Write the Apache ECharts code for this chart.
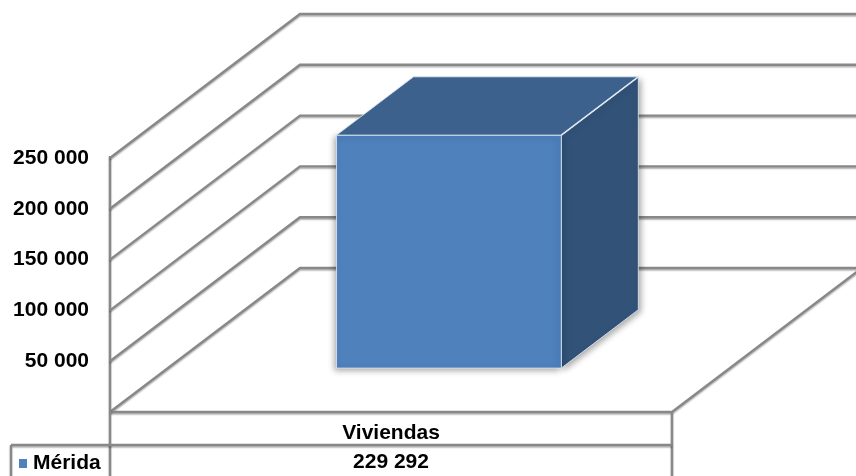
<!DOCTYPE html>
<html>
<head>
<meta charset="utf-8">
<script src="https://cdn.jsdelivr.net/npm/echarts@6/dist/echarts.min.js"></script>
<style>
html,body{margin:0;padding:0;background:#fff;}
#c{width:856px;height:476px;}
</style>
</head>
<body>
<div id="c"></div>
<script>
// ---- data ----
const categories = ['Viviendas'];
const seriesName = 'Mérida';
const values = [229292];
const yTicks = [0, 50000, 100000, 150000, 200000, 250000];

// ---- presentation constants ----
const FONT = "'Liberation Sans', Arial, sans-serif";
const DX = 190, DY = 144;          // 3D depth offset of the back wall
const BAR_FRONT = 0.305, BAR_BACK = 0.71; // bar depth range (fraction of depth)
const BAR_W = 0.4;                  // bar width as fraction of band
const LINE = '#888888';
const ROW_H = 33;

function fmt(v) {
  return String(v).replace(/\B(?=(\d{3})+(?!\d))/g, ' ');
}

const chart = echarts.init(document.getElementById('c'), null, {renderer: 'canvas'});

const lineStyle = {
  fill: null, stroke: LINE, lineWidth: 2.4,
  shadowColor: 'rgba(0,0,0,0.3)', shadowBlur: 1.5, shadowOffsetY: 1.5
};

chart.setOption({
  animation: false,
  backgroundColor: '#fff',
  grid: {left: 110, right: 184, top: 158, bottom: 64},
  legend: {
    data: [seriesName],
    left: 14, top: 448,
    icon: 'rect', itemWidth: 8, itemHeight: 9, itemGap: 4,
    textStyle: {fontFamily: FONT, fontWeight: 'bold', fontSize: 21, color: '#000', padding: [0,0,0,1]}
  },
  xAxis: {
    type: 'category',
    data: categories,
    axisLine: {show: false},
    axisTick: {show: false},
    axisLabel: {
      margin: 7,
      formatter: function (val, idx) {
        return '{a|' + val + '}\n{a|' + fmt(values[idx]) + '}';
      },
      rich: {
        a: {fontFamily: FONT, fontWeight: 'bold', fontSize: 21, color: '#000', lineHeight: 29}
      }
    }
  },
  yAxis: {
    type: 'value',
    min: 0, max: 250000, interval: 50000,
    axisLine: {show: false},
    axisTick: {show: false},
    splitLine: {show: false},
    axisLabel: {
      margin: 21,
      fontFamily: FONT, fontWeight: 'bold', fontSize: 21, color: '#000',
      formatter: function (v) { return v === 0 ? '' : fmt(v); }
    }
  },
  series: [
    {
      type: 'custom',
      name: 'walls',
      silent: true,
      z: 1,
      data: yTicks.map(v => [0, v]),
      renderItem: function (params, api) {
        const cs = params.coordSys;
        const v = api.value(1);
        const y = api.coord([0, v])[1];
        const x0 = cs.x, x1 = cs.x + cs.width;
        const children = [{
          type: 'polyline',
          shape: {points: [[x0, y], [x0 + DX, y - DY], [x1 + DX, y - DY]]},
          style: lineStyle
        }];
        if (v === 0) {
          const yTop = api.coord([0, yTicks[yTicks.length - 1]])[1];
          const bottom = y + ROW_H * 2 + 5;
          children.push(
            {type: 'polyline', shape: {points: [[x0, y], [x1, y], [x1 + DX, y - DY]]}, style: lineStyle},
            {type: 'line', shape: {x1: x0, y1: yTop - 2, x2: x0, y2: bottom}, style: lineStyle},
            {type: 'line', shape: {x1: x1, y1: y, x2: x1, y2: bottom}, style: lineStyle},
            {type: 'line', shape: {x1: 11, y1: y + ROW_H, x2: x1, y2: y + ROW_H}, style: lineStyle},
            {type: 'line', shape: {x1: 11, y1: y + ROW_H, x2: 11, y2: bottom}, style: lineStyle}
          );
        }
        return {type: 'group', children: children};
      }
    },
    {
      type: 'custom',
      name: seriesName,
      z: 5,
      itemStyle: {color: '#4f81bd'},
      data: values.map((v, i) => [i, v]),
      renderItem: function (params, api) {
        const i = api.value(0), v = api.value(1);
        const base = api.coord([i, 0]);
        const top = api.coord([i, v]);
        const bw = api.size([1, 0])[0];
        const fx = BAR_FRONT * DX, fy = BAR_FRONT * DY;
        const dx = (BAR_BACK - BAR_FRONT) * DX, dy = (BAR_BACK - BAR_FRONT) * DY;
        const L = base[0] - BAR_W / 2 * bw + fx;
        const R = base[0] + BAR_W / 2 * bw + fx;
        const T = top[1] - fy;
        const B = base[1] - fy;
        const edge = 'rgba(220,230,242,0.85)';
        return {
          type: 'group',
          children: [
            {
              type: 'polygon',
              shape: {points: [[R, T], [R + dx, T - dy], [R + dx, B - dy], [R, B]]},
              style: {fill: '#325278', stroke: edge, lineWidth: 1,
                shadowColor: 'rgba(0,0,0,0.35)', shadowBlur: 6, shadowOffsetX: 2, shadowOffsetY: 2}
            },
            {
              type: 'rect',
              shape: {x: L, y: T, width: R - L, height: B - T},
              style: {fill: '#4f81bd', stroke: edge, lineWidth: 1,
                shadowColor: 'rgba(0,0,0,0.35)', shadowBlur: 6, shadowOffsetX: -2, shadowOffsetY: 2}
            },
            {
              type: 'polygon',
              shape: {points: [[L, T], [R, T], [R + dx, T - dy], [L + dx, T - dy]]},
              style: {fill: '#3c618c', stroke: edge, lineWidth: 1}
            },
            {
              type: 'line',
              shape: {x1: R, y1: T, x2: R + dx, y2: T - dy},
              style: {stroke: '#dfe8f3', lineWidth: 1.5}
            }
          ]
        };
      }
    }
  ]
});
</script>
</body>
</html>
